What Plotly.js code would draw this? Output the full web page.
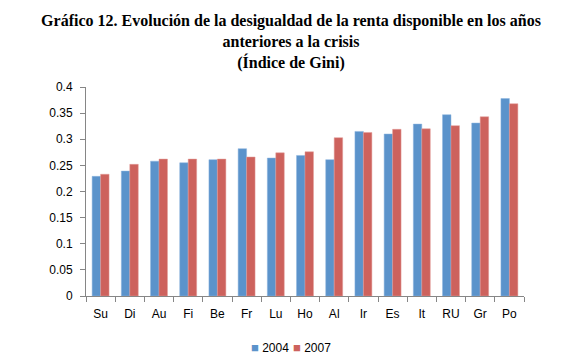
<!DOCTYPE html>
<html>
<head>
<meta charset="utf-8">
<script src="https://cdn.plot.ly/plotly-3.0.1.min.js"></script>
<style>html,body{margin:0;padding:0;background:#fff;}#chart{width:582px;height:363px;}</style>
</head>
<body>
<div id="chart"></div>
<script>
const categories = ["Su","Di","Au","Fi","Be","Fr","Lu","Ho","Al","Ir","Es","It","RU","Gr","Po"];
const gini2004 = [0.229,0.239,0.258,0.255,0.261,0.282,0.264,0.269,0.261,0.315,0.310,0.329,0.347,0.331,0.378];
const gini2007 = [0.233,0.252,0.262,0.262,0.262,0.266,0.274,0.276,0.303,0.313,0.319,0.320,0.326,0.343,0.368];
const seriesNames = ["2004","2007"];
const seriesColors = ["#5B93CB","#CD625D"];

const tickFont = {family: "Liberation Sans, Arial, sans-serif", size: 12, color: "#000"};

const traces = [
  {type: "bar", name: seriesNames[0], x: categories, y: gini2004,
   marker: {color: seriesColors[0], line: {color: "#8DB4DE", width: 0.5}}},
  {type: "bar", name: seriesNames[1], x: categories, y: gini2007,
   marker: {color: seriesColors[1], line: {color: "#E39C98", width: 0.5}}}
];

const legendX = [0.373, 0.467];
const legendAnnotations = seriesNames.map((n, i) => ({
  text: "<span style='color:" + seriesColors[i] + ";font-size:13px'>■</span> " + n,
  xref: "paper", yref: "paper",
  x: legendX[i], xanchor: "left",
  y: -0.245, yanchor: "middle",
  showarrow: false, font: tickFont
}));

const layout = {
  width: 582, height: 363,
  margin: {l: 86, r: 58, t: 87, b: 67},
  paper_bgcolor: "#fff", plot_bgcolor: "#fff",
  title: {
    text: "<b>Gráfico 12. Evolución de la desigualdad de la renta disponible en los años<br>anteriores a la crisis<br>(Índice de Gini)</b>",
    font: {family: "Liberation Serif, Times New Roman, serif", size: 16, color: "#000"},
    x: 0.5, xref: "container", xanchor: "center",
    y: 1 - 26/363, yref: "container", yanchor: "top"
  },
  barmode: "group",
  bargap: 0.42,
  bargroupgap: 0,
  xaxis: {
    showline: true, linecolor: "#868686", linewidth: 1,
    ticks: "outside", tickson: "boundaries", ticklen: 5, tickcolor: "#868686",
    tickfont: tickFont, showgrid: false, zeroline: false, fixedrange: true,
    automargin: false, ticklabelstandoff: 7
  },
  yaxis: {
    range: [0, 0.4], dtick: 0.05, tick0: 0,
    showline: true, linecolor: "#868686", linewidth: 1,
    ticks: "outside", ticklen: 5, tickcolor: "#868686",
    tickfont: tickFont, showgrid: false, zeroline: false, fixedrange: true,
    automargin: false, ticklabelstandoff: 5
  },
  annotations: legendAnnotations,
  showlegend: false
};

Plotly.newPlot("chart", traces, layout, {displayModeBar: false, staticPlot: true});
</script>
</body>
</html>
